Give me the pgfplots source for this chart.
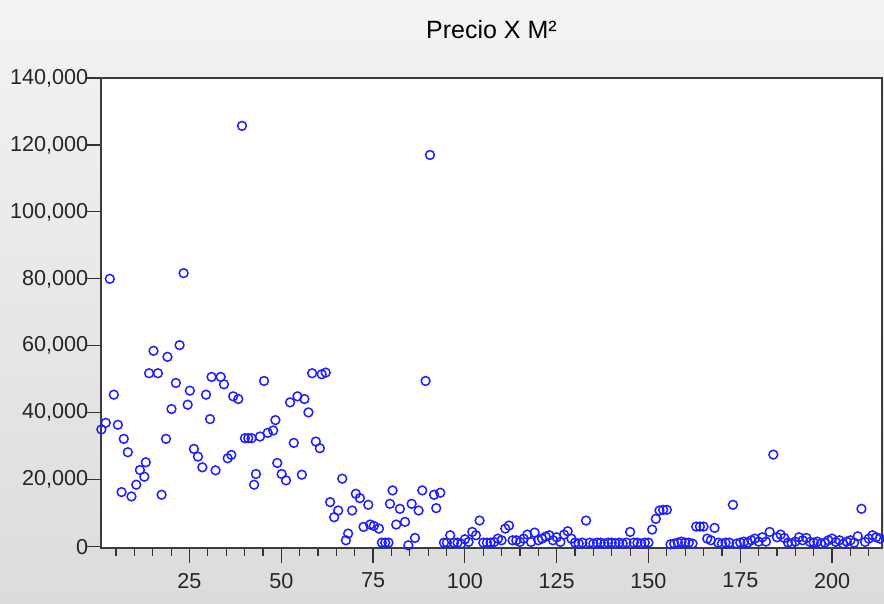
\documentclass[border=0pt]{standalone}
\usepackage{fontspec}
\setmainfont{Liberation Sans}
\usepackage{pgfplots}
\pgfplotsset{compat=1.18}

\definecolor{markblue}{RGB}{30,30,255}
\definecolor{framegray}{RGB}{60,60,60}
\definecolor{bgtop}{RGB}{243,243,243}
\definecolor{bgbottom}{RGB}{220,220,220}

\begin{document}
\begin{tikzpicture}
\useasboundingbox (0,0) rectangle (442pt,302pt);
% window background
\shade[top color=bgtop, bottom color=bgbottom] (0,0) rectangle (442pt,302pt);
\begin{axis}[
    scale only axis,
    width=390.5pt, height=235pt,
    at={(50.5pt,28pt)}, anchor=south west,
    axis background/.style={fill=white},
    axis line style={framegray, line width=1pt},
    xmin=0.9, xmax=213.6,
    ymin=-400, ymax=140000,
    xtick={25,50,75,100,125,150,175,200},
    xticklabels={25,50,75,100,125,150,175,200},
    minor xtick={5,10,...,210},
    ytick={0,20000,40000,60000,80000,100000,120000,140000},
    yticklabels={0,{20,000},{40,000},{60,000},{80,000},{100,000},{120,000},{140,000}},
    scaled y ticks=false, scaled x ticks=false,
    tick align=outside,
    xtick pos=bottom, ytick pos=left,
    major tick length=7.5pt,
    minor tick length=4pt,
    tick style={black!80, line width=0.6pt},
    ticklabel style={font=\fontsize{10.8}{13}\selectfont, text=black!85},
    xticklabel style={yshift=-1.5pt},
    yticklabel style={xshift=4.6pt},
    every axis title shift=0pt,
    title={Precio X M²},
    title style={font=\fontsize{12.5}{15}\selectfont, at={(0.5,1)}, anchor=center, yshift=24pt},
]
\addplot[only marks, mark=o, mark size=2.2pt, mark options={markblue, line width=0.75pt}] coordinates {
(1,35000) (2.2,37000) (3.3,80000) (4.4,45400) (5.5,36400) (6.5,16300) (7.1,32200)
(8.2,28200) (9.2,15000) (10.5,18500) (11.5,22900) (12.7,20900) (13.1,25200) (14,51800)
(15.2,58500) (16.4,51800) (17.4,15500) (18.6,32200) (19,56700) (20.1,41100) (21.3,48900)
(22.3,60200) (23.4,81700) (24.5,42400) (25.1,46600) (26.2,29200) (27.3,26900) (28.5,23700)
(29.5,45400) (30.6,38100) (31,50700) (32.1,22800) (33.5,50700) (34.4,48500) (35.4,26400)
(36.4,27400) (36.9,44900) (38.3,44100) (39.3,125700) (40.1,32400) (41,32400) (41.9,32400)
(42.6,18500) (43.1,21700) (44.2,32900) (45.3,49500) (46.3,34000) (47.8,34700) (48.4,37800)
(48.9,25000) (50.1,21700) (51.3,19800) (52.4,43100) (53.4,31000) (54.4,44900) (55.6,21500)
(56.3,44100) (57.4,40100) (58.4,51800) (59.4,31400) (60.5,29400) (61,51500) (62.1,52000)
(63.3,13300) (64.4,8800) (65.5,10800) (66.6,20300) (67.6,1900) (68.2,3900) (69.3,10800)
(70.3,15800) (71.4,14500) (72.4,5900) (73.7,12500) (74.2,6600) (75.2,6200) (76.6,5400)
(77.4,1200) (78.3,1200) (79.2,1200) (79.6,12800) (80.3,16800) (81.3,6600) (82.3,11300)
(83.7,7400) (84.6,400) (85.5,12800) (86.4,2600) (87.4,10800) (88.4,16800) (89.3,49500)
(90.5,117000) (91.6,15500) (92.2,11500) (93.3,16100) (94.3,1200) (95.1,1200)
(96,3400) (97,1200) (98,1200) (99,900) (100,2200) (101,1400) (102,4400) (103,3400)
(104,7800) (105,1200) (106,1200) (107,1200) (108,1400) (109,2400) (110,1900) (111,5400)
(112,6300) (113,1900) (114,1900) (115,1400) (116,2400) (117,3600) (118,1400) (119,4200)
(120,1900) (121,2400) (122,3000) (123,3400) (124,1900) (125,2800) (126,1400) (127,3600)
(128,4600) (129,2400) (130,1200) (131,900) (132,1200) (133,7800) (134,1200) (135,900)
(136,1200) (137,1200) (138,900) (139,1200) (140,1200) (141,1000) (142,1200) (143,900)
(144,1200) (145,4400) (146,1200) (147,1200) (148,900) (149,1200) (150,1200) (151,5100)
(152,8300) (153,10800) (154,11000) (155,11000) (156,700) (157,900) (158,1200) (159,1500)
(160,1200) (161,1200) (162,900) (163,6000) (164,6000) (165,6000) (166,2400) (167,1900)
(168,5600) (169,1200) (170,900) (171,1200) (172,1200) (173,12500) (174,900) (175,1200)
(176,1500) (177,1200) (178,1900) (179,2400) (180,1500) (181,2800) (182,1500) (183,4400)
(184,27500) (185,2800) (186,3600) (187,2600) (188,1200) (189,900) (190,1500) (191,2800)
(192,1900) (193,2600) (194,1400) (195,1200) (196,1500) (197,900) (198,1200) (199,1900)
(200,2400) (201,1400) (202,1900) (203,900) (204,1500) (205,1900) (206,1200) (207,3100)
(208,11300) (209,1400) (210,2400) (211,3400) (212,2800) (213,2400)
};
\end{axis}
\end{tikzpicture}
\end{document}
